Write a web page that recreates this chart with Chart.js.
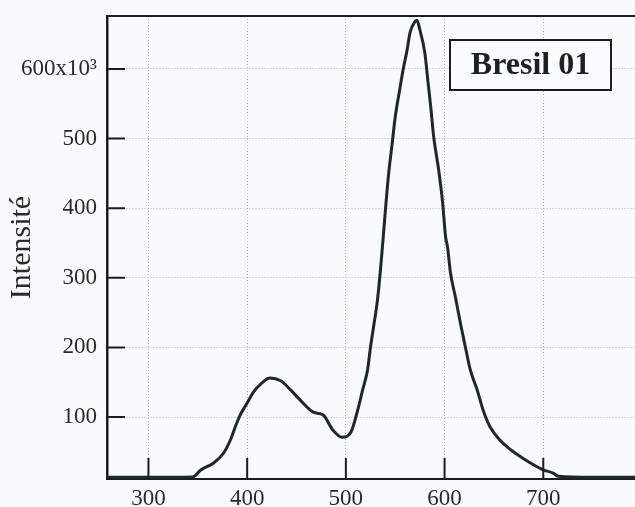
<!DOCTYPE html>
<html>
<head>
<meta charset="utf-8">
<script src="https://cdn.jsdelivr.net/npm/chart.js"></script>
<style>
  html, body { margin: 0; padding: 0; overflow: hidden; background: #f9fafc; }
  canvas { display: block; }
</style>
</head>
<body>
<canvas id="spectre" width="650" height="507"></canvas>
<script>
const wavelength = [258, 300, 345, 353, 366, 376, 383, 388, 393, 400, 406, 415, 423, 434, 444, 454, 467, 477, 487, 496,
  505, 512, 517, 522, 525, 528, 532, 535, 537, 543, 547, 550, 555, 558, 562, 565, 570, 572, 575, 580,
  583, 586, 589, 594, 598, 601, 603, 606, 611, 616, 621, 626, 633, 639, 646, 656, 667, 677, 687, 700,
  710, 715, 750, 800];
const intensity = [13500, 13500, 14000, 24000, 34000, 48000, 67000, 86000, 103000, 120000, 135000, 149000, 156000, 152000, 139000, 124000, 107000, 103000, 81000, 71000,
  78000, 110000, 139000, 168000, 201000, 229000, 268000, 311000, 344000, 445000, 494000, 531000, 574000, 599000, 627000, 652000, 668000, 670000, 656000, 623000,
  584000, 545000, 502000, 455000, 408000, 359000, 344000, 307000, 272000, 235000, 201000, 168000, 139000, 110000, 86000, 67000, 53000, 43000, 34000, 24000,
  19500, 15000, 13500, 13500];
const xTicks = [300, 400, 500, 600, 700];
const yTicks = [100000, 200000, 300000, 400000, 500000, 600000];
const sampleName = 'Bresil 01';

const serif = '"Liberation Serif", "DejaVu Serif", serif';

// cadre, graduations intérieures et étiquette de l'échantillon
const cadre = {
  id: 'cadre',
  afterDatasetsDraw(chart) {
    const { ctx, chartArea: a, scales: { x, y } } = chart;
    ctx.save();
    ctx.strokeStyle = '#1c1c1c';
    ctx.lineWidth = 2;
    ctx.beginPath();
    yTicks.forEach(v => {
      const py = y.getPixelForValue(v);
      ctx.moveTo(a.left, py); ctx.lineTo(a.left + 18, py);
    });
    xTicks.forEach(v => {
      const px = x.getPixelForValue(v);
      ctx.moveTo(px, a.bottom); ctx.lineTo(px, a.bottom - 21);
    });
    ctx.moveTo(a.left, a.top); ctx.lineTo(a.right, a.top); ctx.lineTo(a.right, a.bottom);
    ctx.stroke();

    const bx = a.left + 343, by = a.top + 24, bw = 161, bh = 50;
    ctx.fillStyle = '#fbfcfd';
    ctx.fillRect(bx, by, bw, bh);
    ctx.strokeRect(bx, by, bw, bh);
    ctx.fillStyle = '#1c2222';
    ctx.font = 'bold 32px ' + serif;
    ctx.textAlign = 'center';
    ctx.textBaseline = 'middle';
    ctx.fillText(sampleName, bx + bw / 2, by + bh / 2 + 1);
    ctx.restore();
  }
};

const points = wavelength.map((w, i) => ({ x: w, y: intensity[i] }));

new Chart(document.getElementById('spectre'), {
  type: 'line',
  data: {
    datasets: [{
      data: points,
      borderColor: '#1f2828',
      borderWidth: 3,
      pointRadius: 0,
      cubicInterpolationMode: 'monotone',
      fill: false
    }]
  },
  options: {
    responsive: false,
    animation: false,
    layout: { padding: { top: 16, right: 8, left: 0, bottom: 0 } },
    plugins: { legend: { display: false }, tooltip: { enabled: false } },
    scales: {
      x: {
        type: 'linear',
        min: 258,
        max: 800,
        afterBuildTicks: s => { s.ticks = xTicks.concat([800]).map(v => ({ value: v })); },
        afterFit: s => { s.height = 28; s.paddingLeft = 0; s.paddingRight = 0; },
        grid: { color: '#b0b4b8', lineWidth: 1, drawTicks: false },
        border: { color: '#1c1c1c', width: 2, dash: [1, 2] },
        ticks: {
          padding: 6,
          color: '#2a2a2a',
          font: { family: serif, size: 23 },
          callback: v => xTicks.includes(v) ? v : ''
        }
      },
      y: {
        min: 11000,
        max: 676000,
        afterBuildTicks: s => { s.ticks = yTicks.map(v => ({ value: v })); },
        afterFit: s => { s.width = 107; s.paddingTop = 0; s.paddingBottom = 0; },
        grid: { color: '#b0b4b8', lineWidth: 1, drawTicks: false },
        border: { color: '#1c1c1c', width: 2.5, dash: [1, 2] },
        title: {
          display: true,
          text: 'Intensité',
          color: '#2a2a2a',
          font: { family: serif, size: 30 },
          padding: { top: 4, bottom: 0 }
        },
        ticks: {
          padding: 10,
          color: '#2a2a2a',
          font: { family: serif, size: 23 },
          callback: v => v === 600000 ? '600x10³' : String(v / 1000)
        }
      }
    }
  },
  plugins: [cadre]
});
</script>
</body>
</html>
